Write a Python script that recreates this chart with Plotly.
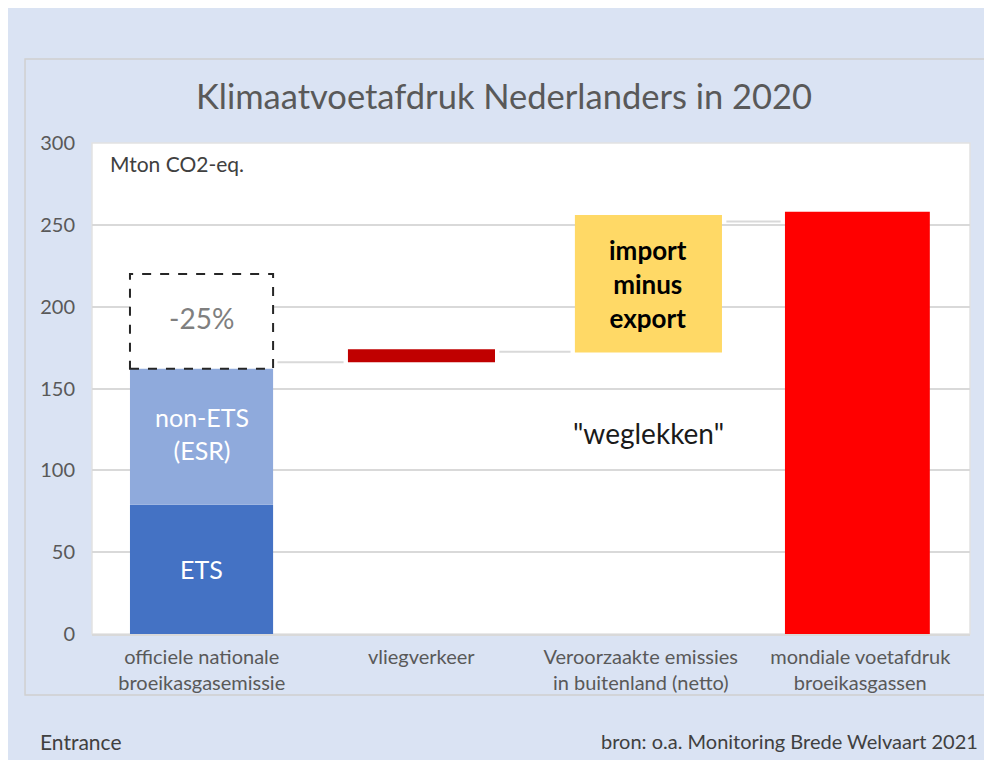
import plotly.graph_objects as go

# categories and values (Mton CO2-eq.)
categories = [
    "officiele nationale<br>broeikasgasemissie",
    "vliegverkeer",
    "Veroorzaakte emissies<br>in buitenland (netto)",
    "mondiale voetafdruk<br>broeikasgassen",
]
ets = 79
non_ets = 87
target_base = 162
target_top = 220
vlieg_base = 166
vlieg = 8
import_base = 172
import_net = 84
mondiaal = 258
connector_levels = [166, 172.5, 252]

# bar placement within each category slot (left offset, width)
slots = [(-0.327, 0.652), (-0.334, 0.67), (-0.30, 0.67), (-0.343, 0.66)]
font = "Lato, 'Open Sans', sans-serif"
grey = "#595959"

fig = go.Figure()

def add_bar(i, val, base, color):
    off, w = slots[i]
    fig.add_trace(go.Bar(x=[categories[i]], y=[val], base=[base], width=w, offset=off,
                         marker=dict(color=color, line=dict(width=0))))

add_bar(0, ets, 0, "#4472c4")
add_bar(0, non_ets, ets, "#8faadc")
add_bar(1, vlieg, vlieg_base, "#c00000")
add_bar(2, import_net, import_base, "#ffd966")
add_bar(3, mondiaal, 0, "#ff0000")

shapes = []
# outer chart frame
shapes.append(dict(type="rect", xref="paper", yref="paper",
                   x0=-0.0763, x1=1.018, y0=-0.124, y1=1.171,
                   line=dict(color="#d0d0d0", width=1.5), layer="below"))
# plot area border
shapes.append(dict(type="rect", xref="paper", yref="paper",
                   x0=0, x1=1, y0=0, y1=1,
                   line=dict(color="#e2e2e2", width=1.5), layer="below"))
# waterfall connectors
for i, lvl in enumerate(connector_levels):
    right = i + slots[i][0] + slots[i][1]
    left = i + 1 + slots[i + 1][0]
    shapes.append(dict(type="line", xref="x", yref="y",
                       x0=right + 0.02, x1=left - 0.02, y0=lvl, y1=lvl,
                       line=dict(color="#d9d9d9", width=2)))
# dashed target box (-25%)
shapes.append(dict(type="rect", xref="x", yref="y",
                   x0=slots[0][0], x1=slots[0][0] + slots[0][1], y0=target_base, y1=target_top,
                   fillcolor="white", line=dict(color="#262626", width=2, dash="dash")))

annotations = [
    dict(x=categories[0], y=ets / 2, text="ETS", showarrow=False,
         font=dict(family=font, size=25, color="white")),
    dict(x=categories[0], y=ets + non_ets / 2, text="non-ETS<br>(ESR)", showarrow=False,
         font=dict(family=font, size=25, color="white")),
    dict(x=categories[0], y=(target_base + target_top) / 2 + 2, text="-25%", showarrow=False,
         font=dict(family=font, size=28, color="#7f7f7f")),
    dict(x=2 + slots[2][0] + slots[2][1] / 2, y=import_base + import_net / 2,
         text="<b>import<br>minus<br>export</b>",
         showarrow=False, font=dict(family=font, size=26, color="black")),
    dict(x=2 + slots[2][0] + slots[2][1] / 2, y=123, text="\"weglekken\"", showarrow=False,
         font=dict(family=font, size=28, color="#1a1a1a")),
    dict(xref="paper", yref="paper", x=0.018, y=0.959, xanchor="left", yanchor="middle",
         text="Mton CO2-eq.", showarrow=False, font=dict(family=font, size=21, color="#404040")),
    dict(xref="paper", yref="paper", x=-0.0615, y=-0.218, xanchor="left", yanchor="middle",
         text="Entrance", showarrow=False, font=dict(family=font, size=21, color="#404040")),
    dict(xref="paper", yref="paper", x=1.0114, y=-0.218, xanchor="right", yanchor="middle",
         text="bron: o.a. Monitoring Brede Welvaart 2021", showarrow=False,
         font=dict(family=font, size=20, color="#404040")),
]

fig.update_layout(
    width=992, height=760,
    margin=dict(l=84, r=30, t=135, b=134),
    paper_bgcolor="#dae3f3",
    plot_bgcolor="white",
    barmode="overlay",
    showlegend=False,
    title=dict(text="Klimaatvoetafdruk Nederlanders in 2020", x=0.5, xanchor="center",
               y=1 - 89 / 760, yanchor="middle",
               font=dict(family=font, size=34.5, color=grey)),
    xaxis=dict(type="category", categoryorder="array", categoryarray=categories,
               range=[-0.5, 3.5],
               showgrid=False, showline=True, linecolor="#d9d9d9", linewidth=2,
               ticks="", tickfont=dict(family=font, size=20, color=grey),
               ticklabelstandoff=4),
    yaxis=dict(range=[0, 300], tickvals=[0, 50, 100, 150, 200, 250, 300],
               showgrid=True, gridcolor="#d9d9d9", gridwidth=2,
               zeroline=False, showline=False, ticks="",
               tickfont=dict(family=font, size=20, color=grey),
               ticklabelstandoff=16),
    shapes=shapes,
    annotations=annotations,
)

fig.write_html("out.html")
